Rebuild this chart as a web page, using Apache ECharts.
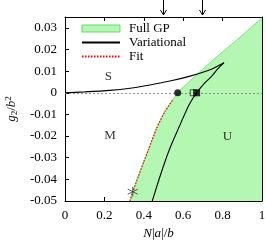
<!DOCTYPE html>
<html><head><meta charset="utf-8">
<script src="https://cdn.jsdelivr.net/npm/echarts@6/dist/echarts.min.js"></script>
<style>html,body{margin:0;padding:0;background:#fff}#c{width:266px;height:243px}</style>
</head><body><div id="c"></div>
<script>
// Full GP stability boundary (region to the right/below is filled)
const gpX = [0.33, 0.344, 0.372, 0.40, 0.423, 0.465, 0.508, 0.545, 0.572, 0.62, 0.68, 0.76, 0.87, 1.0];
const gpY = [-0.05, -0.0457, -0.0387, -0.0318, -0.0264, -0.0164, -0.0085, -0.0036, 0.0, 0.0043, 0.0093, 0.0158, 0.0242, 0.0346];
// Variational curve: upper branch and lower branch (meeting at the cusp)
const varUpX = [0, 0.1, 0.228, 0.33, 0.431, 0.533, 0.635, 0.736, 0.807];
const varUpY = [0, 0.0004, 0.0011, 0.0021, 0.0036, 0.0054, 0.0077, 0.0106, 0.0139];
const varLoX = [0.807, 0.775, 0.745, 0.702, 0.668, 0.63, 0.595, 0.533, 0.49, 0.443];
const varLoY = [0.0139, 0.011, 0.0077, 0.0038, 0.0, -0.0055, -0.0125, -0.0255, -0.0365, -0.05];
// Fit curve
const fitX = [0.33, 0.344, 0.372, 0.40, 0.423, 0.465, 0.508, 0.55];
const fitY = [-0.05, -0.0457, -0.0387, -0.0318, -0.0264, -0.0164, -0.0085, -0.0029];
// markers
const circleX = [0.572], circleY = [0];
const openSqX = [0.651], openSqY = [0];
const fillSqX = [0.668], fillSqY = [0];
const starX = [0.344], starY = [-0.0457];
// arrows above the plot
const arrowX = [0.497, 0.695];
// region labels
const regionText = ['S', 'M', 'U'];
const regionX = [0.22, 0.228, 0.824];
const regionY = [0.0077, -0.0198, -0.0202];
// axes
const xMin = 0, xMax = 1, xStep = 0.2;
const yMin = -0.05, yMax = 0.035, yStep = 0.01;

const zip = (a, b) => a.map((v, i) => [v, b[i]]);
const FONT = 'Liberation Serif';
const fmt = v => String(Math.round(v * 1000) / 1000);
const yfmt = v => { const k = Math.round(v / yStep); if (Math.abs(k * yStep - v) > 1e-9) return ''; return String(Math.round(v * 100) / 100); };
const HIDE = {color: 'rgba(0,0,0,0)', borderColor: 'rgba(0,0,0,0)', borderWidth: 0};

const chart = echarts.init(document.getElementById('c'), null, {renderer: 'canvas'});
const axisCommon = {
  type: 'value', splitLine: {show: false},
  axisLine: {show: true, onZero: false, lineStyle: {color: '#000', width: 1}},
  axisTick: {show: true, inside: true, length: 4, lineStyle: {color: '#000'}},
};
const varLine = {type: 'line', name: 'Variational', symbol: 'none', showSymbol: false, smooth: 0.2,
  lineStyle: {color: '#000', width: 1.1}, itemStyle: {color: '#000'}, z: 3};
chart.setOption({
  animation: false,
  backgroundColor: '#fff',
  grid: {left: 65, right: 4, top: 17, bottom: 42, containLabel: false, outerBoundsMode: 'none'},
  legend: {
    left: 81, top: 22, padding: 0, orient: 'vertical', itemWidth: 38, itemHeight: 7, itemGap: 1,
    textStyle: {fontFamily: FONT, fontSize: 13, color: '#000', lineHeight: 13, padding: [0, 0, 0, 4]},
    data: [
      {name: 'Full GP', icon: 'rect', itemStyle: {color: '#b3f7b3', borderColor: '#66d966', borderWidth: 1}},
      {name: 'Variational', itemStyle: HIDE},
      {name: 'Fit', itemStyle: HIDE}
    ]
  },
  xAxis: [
    Object.assign({}, axisCommon, {min: xMin, max: xMax, interval: xStep, position: 'bottom',
      axisLabel: {fontFamily: FONT, fontSize: 13, color: '#000', margin: 8, formatter: fmt},
      name: '{i|N}|{i|a}|/{i|b}', nameLocation: 'middle', nameGap: 21,
      nameTextStyle: {fontFamily: FONT, fontSize: 13, color: '#000', padding: [0, 10, 0, 0],
        rich: {i: {fontFamily: FONT, fontStyle: 'italic', fontSize: 13}}}}),
    Object.assign({}, axisCommon, {min: xMin, max: xMax, interval: xStep, position: 'top', axisLabel: {show: false}})
  ],
  yAxis: [
    Object.assign({}, axisCommon, {min: yMin, max: yMax, interval: yStep, position: 'left',
      axisLabel: {fontFamily: FONT, fontSize: 13, color: '#000', margin: 8, formatter: yfmt},
      name: '{i|g}{s|2}/{i|b}{p|2}', nameLocation: 'middle', nameGap: 45, nameRotate: 90,
      nameTextStyle: {fontFamily: FONT, fontSize: 13, color: '#000',
        rich: {i: {fontFamily: FONT, fontStyle: 'italic', fontSize: 13},
               s: {fontFamily: FONT, fontSize: 9, verticalAlign: 'bottom', padding: [6, 0, 0, 0]},
               p: {fontFamily: FONT, fontSize: 9, padding: [0, 0, 6, 0]}}}}),
    Object.assign({}, axisCommon, {min: yMin, max: yMax, interval: yStep, position: 'right', axisLabel: {show: false}})
  ],
  series: [
    {name: 'Full GP', type: 'line', data: zip(gpX, gpY), symbol: 'none', showSymbol: false, smooth: 0.2,
      lineStyle: {color: '#7fe07f', width: 1}, itemStyle: {color: '#b3f7b3'},
      areaStyle: {color: '#b3f7b3', opacity: 1, origin: 'start'}, z: 1,
      markLine: {silent: true, symbol: 'none', label: {show: false},
        lineStyle: {color: '#777', type: [2, 2], width: 0.8}, data: [{yAxis: 0}]}},
    Object.assign({}, varLine, {data: zip(varUpX, varUpY)}),
    Object.assign({}, varLine, {data: zip(varLoX, varLoY)}),
    {name: 'Fit', type: 'line', data: zip(fitX, fitY), symbol: 'none', showSymbol: false, smooth: 0.2,
      lineStyle: {color: '#f00', width: 1.2, type: [1.5, 1.5]}, itemStyle: {color: '#f00'}, z: 4},
    {type: 'scatter', data: zip(circleX, circleY), symbol: 'circle', symbolSize: 7,
      itemStyle: {color: '#000'}, z: 5},
    {type: 'scatter', data: zip(openSqX, openSqY), symbol: 'rect', symbolSize: 6,
      itemStyle: {color: 'rgba(0,0,0,0)', borderColor: '#000', borderWidth: 0.8}, z: 5},
    {type: 'scatter', data: zip(fillSqX, fillSqY), symbol: 'rect', symbolSize: 7,
      itemStyle: {color: '#000'}, z: 5},
    {type: 'scatter', data: zip(starX, starY), symbol: 'path://M0,-5L0,5M-4.33,-2.5L4.33,2.5M-4.33,2.5L4.33,-2.5',
      symbolSize: 10, itemStyle: {color: 'none', borderColor: '#333', borderWidth: 1}, z: 6},
    {type: 'scatter', data: regionX.map((x, i) => ({value: [x, regionY[i]], label: {formatter: regionText[i]}})),
      symbolSize: 0, label: {show: true, position: 'inside', fontFamily: FONT, fontSize: 13, color: '#000'}, z: 6},
    {type: 'custom', data: arrowX.map(x => [x, yMax]), clip: false, z: 6,
      renderItem: (params, api) => {
        const p = api.coord([api.value(0), api.value(1)]);
        const x = Math.round(p[0]) + 0.5, yb = p[1] - 2, yt = p[1] - 17;
        return {type: 'group', children: [
          {type: 'line', shape: {x1: x, y1: yt, x2: x, y2: yb}, style: {stroke: '#000', lineWidth: 1}},
          {type: 'polyline', shape: {points: [[x - 3, yb - 5], [x, yb], [x + 3, yb - 5]]}, style: {stroke: '#000', fill: null, lineWidth: 1}}
        ]};
      }}
  ]
});
</script></body></html>
